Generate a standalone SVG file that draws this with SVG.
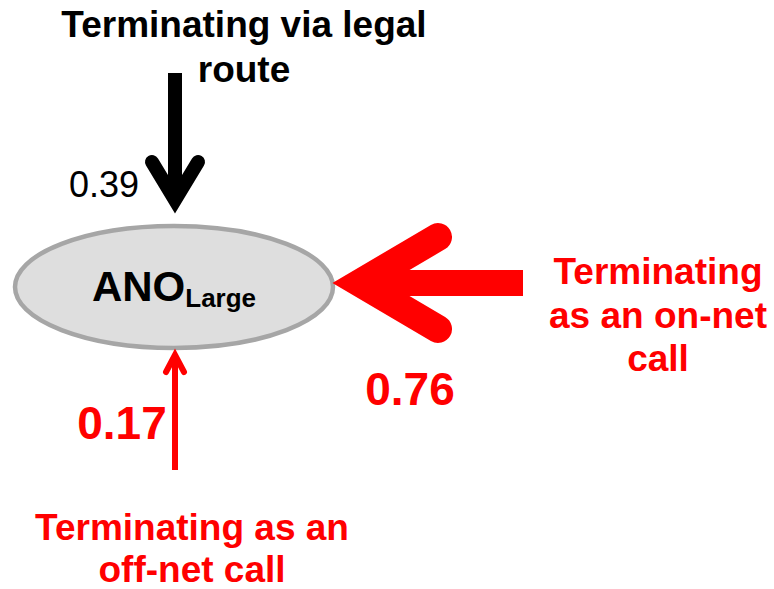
<svg xmlns="http://www.w3.org/2000/svg" width="774" height="589" viewBox="0 0 774 589">
  <style>
    .lbl { font-family: "Liberation Sans", Arial, sans-serif; font-weight: bold; text-anchor: middle; }
    .red { fill: #ff0000; }
    .blk { fill: #000000; }
    .num { font-family: "Liberation Sans", Arial, sans-serif; text-anchor: middle; }
  </style>
  <rect width="774" height="589" fill="#ffffff"/>

  <!-- central node -->
  <g id="node-ano-large">
    <ellipse cx="174" cy="287" rx="159" ry="61" fill="#dedede" stroke="#a6a6a6" stroke-width="4.5"/>
    <text class="lbl blk" x="174" y="301" font-size="42"><tspan>ANO</tspan><tspan font-size="26" dy="6">Large</tspan></text>
  </g>

  <!-- incoming flows -->
  <g id="connectors">
    <!-- legal route, from above -->
    <g id="arrow-legal" stroke="#000000" fill="none">
      <line x1="175" y1="73" x2="175" y2="200" stroke-width="14"/>
      <polyline points="152,162 175,200 198,162" stroke-width="14" stroke-linecap="round" stroke-linejoin="miter" stroke-miterlimit="10"/>
    </g>
    <!-- on-net call, from the right -->
    <g id="arrow-onnet" stroke="#ff0000" fill="none">
      <line x1="370" y1="283" x2="523" y2="283" stroke-width="26"/>
      <polyline points="438,237 360,283 438,329" stroke-width="28" stroke-linecap="round" stroke-linejoin="miter" stroke-miterlimit="10"/>
    </g>
    <!-- off-net call, from below -->
    <g id="arrow-offnet" stroke="#ff0000" fill="none">
      <line x1="175" y1="470" x2="175" y2="356" stroke-width="6"/>
      <polyline points="166,372 175,355 184,372" stroke-width="6" stroke-linecap="round" stroke-linejoin="miter" stroke-miterlimit="10"/>
    </g>
  </g>

  <!-- source labels -->
  <g id="node-legal">
    <text class="lbl blk" x="244" y="37" font-size="37">Terminating via legal</text>
    <text class="lbl blk" x="244" y="82" font-size="37">route</text>
  </g>
  <g id="node-onnet">
    <text class="lbl red" x="658" y="284" font-size="37">Terminating</text>
    <text class="lbl red" x="658" y="328" font-size="37">as an on-net</text>
    <text class="lbl red" x="658" y="371" font-size="37">call</text>
  </g>
  <g id="node-offnet">
    <text class="lbl red" x="192" y="540" font-size="37">Terminating as an</text>
    <text class="lbl red" x="192" y="582" font-size="37">off-net call</text>
  </g>

  <!-- flow shares -->
  <text class="num blk" x="104" y="197" font-size="36">0.39</text>
  <text class="lbl red" x="410" y="405" font-size="46">0.76</text>
  <text class="lbl red" x="122" y="439" font-size="46">0.17</text>
</svg>
